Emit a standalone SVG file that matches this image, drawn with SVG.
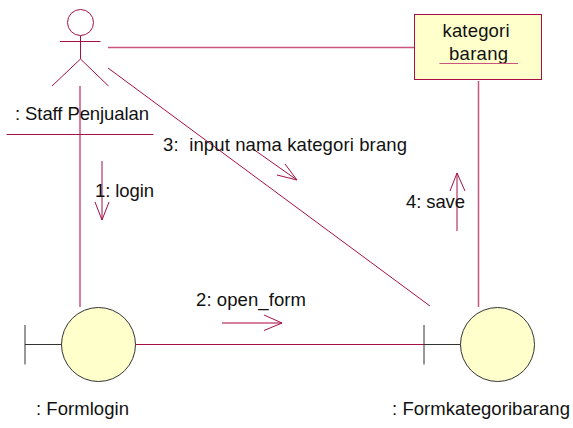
<svg xmlns="http://www.w3.org/2000/svg" width="573" height="428" viewBox="0 0 573 428">
<style>
.l{stroke:#a50f45;stroke-width:1;fill:none}
.p{stroke:#c9557f;stroke-width:1.5;fill:none}
.d{stroke:#333;stroke-width:1;fill:none}
.b{stroke:#333;stroke-width:1;fill:#ffffcc}
text{font-family:"Liberation Sans",Arial,sans-serif;font-size:18.500px;fill:#111;white-space:pre}
</style>
<rect width="573" height="428" fill="#fff"/>
<g id="connectors">
<path class="p" d="M80 86V307"/>
<path class="p" d="M108 47.500H415"/>
<path class="l" d="M108 68L430 306"/>
<path class="p" d="M478.500 81V307"/>
<path class="l" d="M135 344.500H424"/>
<path class="l" d="M102 161V220M95 202L102 220L109 202"/>
<path class="l" d="M253 149L297 180M285 164L297 180L277 175"/>
<path class="p" d="M222 323H282"/>
<path class="l" d="M264 315L282 323L264 330.500"/>
<path class="l" d="M457 231V173M450 191L457 173L465 191"/>
</g>
<g id="actor">
<circle class="l" cx="80.500" cy="22.500" r="13"/>
<path class="l" d="M60 41.500H100.500M80.500 35.500V59M80.500 59L52 86M80.500 59L108.500 86"/>
<text x="15" y="120" textLength="134">: Staff Penjualan</text>
<path class="l" d="M6.500 134.500H153.500"/>
</g>
<g id="kategori-barang">
<rect x="414.500" y="14.500" width="127" height="65" fill="#ffffcc" stroke="#a50f45"/>
<text x="442.500" y="37" textLength="67">kategori</text>
<text x="449" y="60" textLength="59">barang</text>
<path class="p" d="M439.500 63.500H518" style="stroke-width:1"/>
</g>
<g id="form-login">
<path class="d" d="M25 325V364.500M25 344.500H62"/>
<circle class="b" cx="98.500" cy="344.500" r="37"/>
<text x="36" y="415" textLength="93">: Formlogin</text>
</g>
<g id="form-kategori-barang">
<path class="d" d="M424 325V364.500M424 344.500H461"/>
<circle class="b" cx="497.500" cy="344.500" r="37"/>
<text x="392" y="415" textLength="178">: Formkategoribarang</text>
</g>
<g id="labels">
<text x="95" y="197" textLength="59">1: login</text>
<text x="163" y="151" textLength="244">3:  input nama kategori brang</text>
<text x="406" y="208" textLength="59">4: save</text>
<text x="196" y="306" textLength="110">2: open_form</text>
</g>
</svg>
